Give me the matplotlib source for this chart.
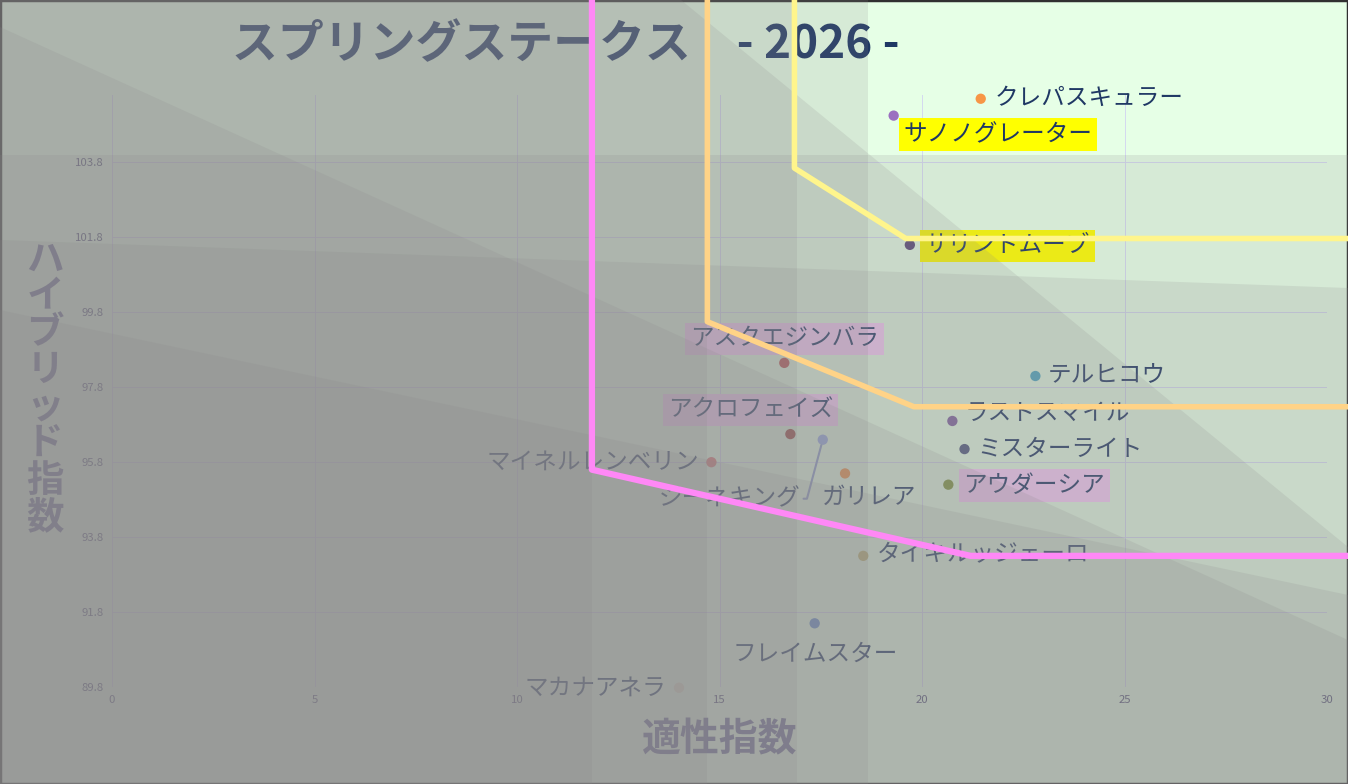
import matplotlib
matplotlib.use("Agg")
import matplotlib.pyplot as plt
from matplotlib.patches import Polygon, Rectangle

plt.rcParams['font.family'] = ['Noto Sans CJK JP', 'DejaVu Sans']

# ---------------- data ----------------
names = ["クレパスキュラー", "サノノグレーター", "サリントムーブ", "アスクエジンバラ",
         "テルヒコウ", "ラストスマイル", "アクロフェイズ", "ジーネキング",
         "ミスターライト", "マイネルレンベリン", "ガリレア", "アウダーシア",
         "タイキルッジェーロ", "フレイムスター", "マカナアネラ"]
aptitude = [21.45, 19.3, 19.7, 16.6, 22.8, 20.75, 16.75, 17.55,
            21.05, 14.8, 18.1, 20.65, 18.55, 17.35, 14.0]
hybrid = [105.5, 105.05, 101.6, 98.45, 98.1, 96.9, 96.55, 96.4,
          96.15, 95.8, 95.5, 95.2, 93.3, 91.5, 89.78]
point_colors = ["#f79646", "#9b6fc0", "#5b4a78", "#c0504d", "#4bacc6", "#8064a2",
                "#a0403c", "#9aaee8", "#4f5a80", "#e07a78", "#f79646", "#7f9a3a",
                "#c4bd70", "#5f8fd0", "#e0ddc8"]
highlight = [None, "#ffff00", "#ffff00", "#ffd2ff", None, None, "#ffd2ff", None,
             None, None, None, "#ffd2ff", None, None, None]

x_ticks = [0, 5, 10, 15, 20, 25, 30]
y_ticks = [89.8, 91.8, 93.8, 95.8, 97.8, 99.8, 101.8, 103.8]

# threshold lines (data coordinates, extended past the plot area)
pink_x = [11.85, 11.85, 21.2, 31.0]
pink_y = [109.0, 95.6, 93.3, 93.3]
orange_x = [14.7, 14.7, 19.8, 31.0]
orange_y = [109.0, 99.55, 97.28, 97.28]
yellow_x = [16.85, 16.85, 19.6, 31.0]
yellow_y = [109.0, 103.65, 101.77, 101.77]

title = "スプリングステークス　- 2026 -"
xlabel = "適性指数"
ylabel = "ハイブリッド指数"

# label placement (pixel offsets from point: dx right, dy down) and alignment
label_style = {
    "クレパスキュラー": (14, 0, 'left'),
    "サノノグレーター": (10, 19, 'left'),
    "サリントムーブ": (15, 1, 'left'),
    "アスクエジンバラ": (0, -24, 'center'),
    "テルヒコウ": (12, 0, 'left'),
    "ラストスマイル": (12, -8, 'left'),
    "アクロフェイズ": (-40, -24, 'center'),
    "ジーネキング": (-22, 59, 'right'),
    "ミスターライト": (13, 0, 'left'),
    "マイネルレンベリン": (-12, 0, 'right'),
    "ガリレア": (24, 24, 'center'),
    "アウダーシア": (15, 1, 'left'),
    "タイキルッジェーロ": (14, -2, 'left'),
    "フレイムスター": (1, 31, 'center'),
    "マカナアネラ": (-13, 0, 'right'),
}

W, H = 1348, 784
fig = plt.figure(figsize=(W / 100, H / 100), dpi=100)
fig.patch.set_facecolor("#e6ffe6")

L, R, T, B = 112, 1327, 95, 687
ax = fig.add_axes([L / W, 1 - B / H, (R - L) / W, (B - T) / H], zorder=0)
ax.patch.set_alpha(0)
ax.set_xlim(0, 30)
ax.set_ylim(89.8, 105.6)
ax.set_xticks(x_ticks)
ax.set_yticks(y_ticks)
ax.set_yticklabels([f"{v:.1f}" for v in y_ticks])
ax.tick_params(length=0, labelsize=8.2, labelcolor="#505078", pad=6)
for s in ax.spines.values():
    s.set_visible(False)
ax.grid(True, color="#d4d8f0", lw=0.7)
ax.set_axisbelow(True)

navy = "#1f3864"
ax.scatter(aptitude, hybrid, s=55, c=point_colors, zorder=4, edgecolors='none', clip_on=False)
for n, xv, yv, hl in zip(names, aptitude, hybrid, highlight):
    dx, dy, ha = label_style[n]
    kw = {}
    if hl:
        kw['bbox'] = dict(boxstyle='square,pad=0.2', fc=hl, ec='none')
    if n == "ジーネキング":
        kw['arrowprops'] = dict(arrowstyle='-', color="#8ea0d0", lw=1.5, relpos=(1.0, 0.5),
                                shrinkA=0, shrinkB=4,
                                connectionstyle="angle,angleA=0,angleB=75,rad=0")
    ax.annotate(n, (xv, yv), xytext=(dx * 0.72, -dy * 0.72), textcoords='offset points',
                ha=ha, va='center', fontsize=17, color=navy, zorder=5,
                annotation_clip=False, **kw)

fig.text(566 / W, 1 - 45 / H, title, ha='center', va='center', fontsize=33,
         fontweight='bold', color=navy, zorder=1)
fig.text(720 / W, 1 - 740 / H, xlabel, ha='center', va='center', fontsize=28,
         fontweight='bold', color="#6a6a9a", zorder=1)
fig.text(45 / W, 1 - 388 / H, "\n".join(ylabel), ha='center', va='center', fontsize=27,
         fontweight='bold', color="#6a6a9a", linespacing=0.93, zorder=1)

# ---------------- translucent shading layers ----------------
ov = fig.add_axes([0, 0, 1, 1], zorder=2)
ov.set_xlim(0, W)
ov.set_ylim(H, 0)
ov.axis('off')
ov.patch.set_alpha(0)
ov.add_patch(Rectangle((0, 0), W, H, fill=False, ec="#303030", lw=2.5, zorder=0))
shade = "#8a878a"
layers = [
    [(0, 0), (868, 0), (868, H), (0, H)],
    [(0, 155), (W, 155), (W, H), (0, H)],
    [(0, 0), (797, 0), (797, H), (0, H)],
    [(0, 0), (707, 0), (707, H), (0, H)],
    [(0, 0), (592, 0), (592, H), (0, H)],
    [(0, 240), (W, 288), (W, H), (0, H)],
    [(681, 0), (W, 547), (W, H), (0, H), (0, 0)],
    [(0, 27), (W, 640), (W, H), (0, H)],
    [(0, 310), (W, 595), (W, H), (0, H)],
]
for poly in layers:
    ov.add_patch(Polygon(poly, closed=True, fc=shade, ec='none', alpha=0.17, zorder=1))

# ---------------- threshold lines on top ----------------
la = fig.add_axes(ax.get_position(), zorder=3)
la.set_xlim(ax.get_xlim())
la.set_ylim(ax.get_ylim())
la.axis('off')
la.patch.set_alpha(0)
la.plot(pink_x, pink_y, color="#ff88f6", lw=4.5, clip_on=False, solid_joinstyle='round')
la.plot(orange_x, orange_y, color="#ffd387", lw=4, clip_on=False, solid_joinstyle='round')
la.plot(yellow_x, yellow_y, color="#fff58c", lw=4, clip_on=False, solid_joinstyle='round')

fig.savefig("out.png", dpi=100, facecolor=fig.get_facecolor())
